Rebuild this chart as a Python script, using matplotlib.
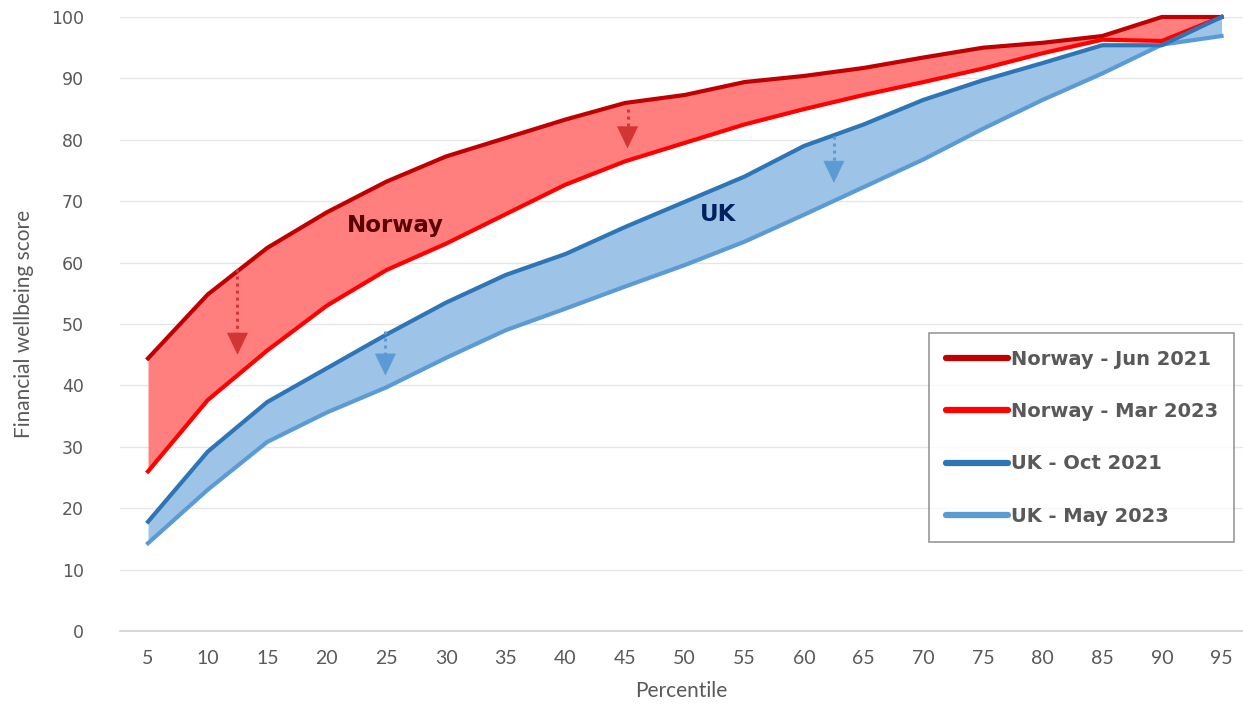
import matplotlib
matplotlib.use("Agg")
import matplotlib.pyplot as plt
import numpy as np

# percentiles on the x axis
percentiles = [5, 10, 15, 20, 25, 30, 35, 40, 45, 50, 55, 60, 65, 70, 75, 80, 85, 90, 95]

# financial wellbeing score per percentile
norway_jun21 = [44.4, 54.8, 62.4, 68.2, 73.2, 77.3, 80.3, 83.3, 86.0, 87.3, 89.4, 90.4, 91.7, 93.4, 95.0, 95.8, 96.9, 100.0, 100.0]
norway_mar23 = [26.0, 37.6, 45.7, 53.0, 58.8, 63.1, 67.9, 72.7, 76.5, 79.5, 82.5, 85.0, 87.3, 89.4, 91.6, 94.1, 96.3, 96.1, 100.0]
uk_oct21 = [17.8, 29.2, 37.3, 42.8, 48.3, 53.5, 58.0, 61.4, 65.8, 69.9, 74.0, 79.0, 82.5, 86.5, 89.7, 92.5, 95.4, 95.4, 100.0]
uk_may23 = [14.3, 23.0, 30.8, 35.6, 39.7, 44.5, 49.0, 52.5, 56.1, 59.6, 63.4, 67.8, 72.3, 76.8, 81.8, 86.5, 90.8, 95.5, 96.9]

series_labels = ["Norway - Jun 2021", "Norway - Mar 2023", "UK - Oct 2021", "UK - May 2023"]
y_ticks = [0, 10, 20, 30, 40, 50, 60, 70, 80, 90, 100]

# dotted arrows: (percentile, start, end)
red_arrows = [(12.5, 59.0, 45.0), (45.2, 85.0, 78.6)]
blue_arrows = [(24.9, 48.8, 41.6), (62.5, 80.7, 73.0)]

c_nor1 = "#C00000"
c_nor2 = "#FF0000"
c_uk1 = "#2E75B6"
c_uk2 = "#5B9BD5"

fig = plt.figure(figsize=(12.43, 7.21), dpi=100)
ax = fig.add_axes([120 / 1243, 90 / 721, 1123 / 1243, 614 / 721])

x = np.array(percentiles)
ax.fill_between(x, norway_jun21, norway_mar23, color="#FF7F7F", lw=0, zorder=2)
ax.fill_between(x, uk_oct21, uk_may23, color="#9DC3E6", lw=0, zorder=2)

lw = 3.0
ax.plot(x, norway_jun21, color=c_nor1, lw=lw, label=series_labels[0], zorder=4, clip_on=False, solid_joinstyle="round")
ax.plot(x, norway_mar23, color=c_nor2, lw=lw, label=series_labels[1], zorder=4, clip_on=False, solid_joinstyle="round")
ax.plot(x, uk_oct21, color=c_uk1, lw=lw, label=series_labels[2], zorder=4, clip_on=False, solid_joinstyle="round")
ax.plot(x, uk_may23, color=c_uk2, lw=lw, label=series_labels[3], zorder=3, clip_on=False, solid_joinstyle="round")


def drop_arrow(px, y0, y1, color):
    # dotted shaft, solid triangular head
    head = 2.4
    ax.plot([px, px], [y0, y1 + head], color=color, lw=2.2, linestyle=(0, (1, 1.3)), zorder=5)
    ax.annotate("", xy=(px, y1), xytext=(px, y1 + head),
                arrowprops=dict(arrowstyle="-|>,head_length=0.75,head_width=0.36", color=color,
                                lw=0.5, mutation_scale=20, shrinkA=0, shrinkB=0), zorder=5)


for px, y0, y1 in red_arrows:
    drop_arrow(px, y0, y1, "#D33434")
for px, y0, y1 in blue_arrows:
    drop_arrow(px, y0, y1, "#5B9BD5")

ax.text(25.7, 66.1, "Norway", color="#5A0000", fontsize=16.5, fontweight="bold",
        ha="center", va="center", zorder=6)
ax.text(52.8, 67.8, "UK", color="#002060", fontsize=16.5, fontweight="bold",
        ha="center", va="center", zorder=6)

ax.set_xlim(2.65, 96.8)
ax.set_ylim(0, 100)
ax.set_xticks(percentiles)
ax.set_xticklabels([str(p) for p in percentiles], family="Lato", fontsize=14, color="#595959")
ax.set_yticks(y_ticks)
ax.set_yticklabels([str(v) for v in y_ticks], fontsize=12.5, color="#595959")
ax.tick_params(axis="both", length=0)
ax.tick_params(axis="x", pad=14)
ax.tick_params(axis="y", pad=26)
ax.grid(axis="y", color="#E6E6E6", lw=1)
ax.set_axisbelow(True)
for s in ["top", "right", "left"]:
    ax.spines[s].set_visible(False)
ax.spines["bottom"].set_color("#D0D0D0")
ax.spines["bottom"].set_linewidth(1.2)

ax.set_xlabel("Percentile", family="Lato", fontsize=15, color="#595959", labelpad=10)
ax.set_ylabel("Financial wellbeing score", family="Lato", fontsize=15, color="#595959", labelpad=12)

leg = fig.legend(loc="upper left", bbox_to_anchor=(929 / 1243, 1 - 333 / 721),
                 frameon=True, fancybox=False, handlelength=3.2, handletextpad=0.15,
                 labelspacing=1.72, borderpad=0.85, borderaxespad=0,
                 prop={"weight": "bold", "size": 14})
leg.get_frame().set_edgecolor("#7F7F7F")
leg.get_frame().set_linewidth(1.2)
for t in leg.get_texts():
    t.set_color("#595959")
for h in leg.legend_handles:
    h.set_linewidth(4.5)
    h.set_solid_capstyle("round")

fig.savefig("out.png", dpi=100)
